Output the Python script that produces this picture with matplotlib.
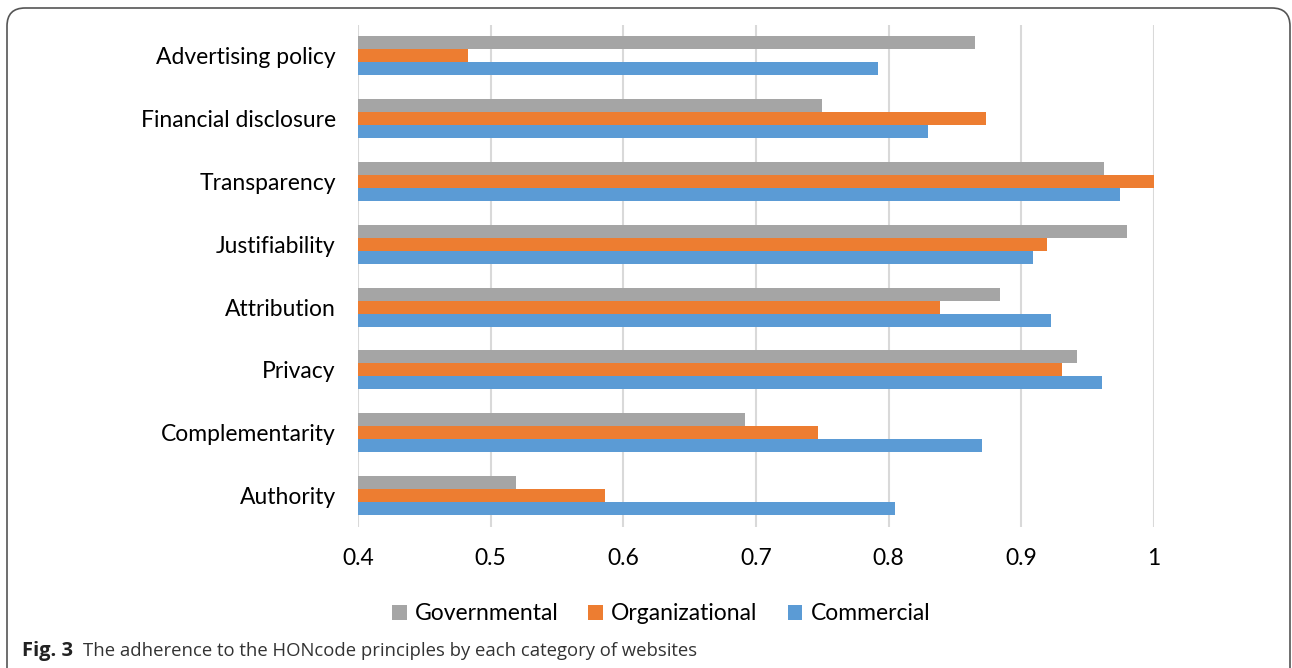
import matplotlib
matplotlib.use("Agg")
import matplotlib.pyplot as plt
from matplotlib.patches import FancyBboxPatch
import numpy as np

categories = ["Advertising policy", "Financial disclosure", "Transparency", "Justifiability",
              "Attribution", "Privacy", "Complementarity", "Authority"]
governmental = [0.865, 0.750, 0.962, 0.980, 0.884, 0.942, 0.692, 0.519]
organizational = [0.483, 0.873, 1.000, 0.919, 0.839, 0.931, 0.747, 0.586]
commercial = [0.792, 0.830, 0.974, 0.909, 0.922, 0.961, 0.870, 0.805]
xticks = [0.4, 0.5, 0.6, 0.7, 0.8, 0.9, 1.0]
xticklabels = ["0.4", "0.5", "0.6", "0.7", "0.8", "0.9", "1"]

plt.rcParams['font.family'] = ['Lato', 'DejaVu Sans']

W, H = 1292, 668
fig = plt.figure(figsize=(W / 100, H / 100), dpi=100)
ax = fig.add_axes([358 / W, 1 - 527 / H, (1154 - 358) / W, (527 - 24.5) / H])

n = len(categories)
y = np.arange(n)
h = 0.207
base = 0.4
ax.barh(y - h, np.array(governmental) - base, left=base, height=h, color="#A5A5A5", label="Governmental", zorder=3)
ax.barh(y, np.array(organizational) - base, left=base, height=h, color="#ED7D31", label="Organizational", zorder=3)
ax.barh(y + h, np.array(commercial) - base, left=base, height=h, color="#5B9BD5", label="Commercial", zorder=3)

ax.set_ylim(n - 0.5, -0.5)
ax.set_xlim(0.4, 1.0)
ax.set_yticks(y)
ax.set_yticklabels(categories, fontsize=16.5, color="#000000")
ax.set_xticks(xticks)
ax.set_xticklabels(xticklabels, fontsize=16.5)
ax.tick_params(axis='both', length=0)
ax.tick_params(axis='y', pad=16)
ax.tick_params(axis='x', pad=15)
for s in ax.spines.values():
    s.set_visible(False)
ax.grid(axis='x', color="#D9D9D9", linewidth=1.5, zorder=0)
ax.set_axisbelow(True)

leg = fig.legend(loc='center', bbox_to_anchor=(661 / W, 1 - 614 / H), ncol=3, frameon=False,
                 fontsize=16.5, handlelength=0.65, handleheight=0.65, handletextpad=0.35,
                 columnspacing=1.3)

# frame
frame = FancyBboxPatch((7 / W, -0.05), (1290 - 7) / W, (668 - 8) / H + 0.05,
                       boxstyle="round,pad=0,rounding_size=0.014", transform=fig.transFigure,
                       facecolor="none", edgecolor="#555555", linewidth=1.2, mutation_aspect=W / H)
fig.patches.append(frame)

cap_family = ['Open Sans', 'DejaVu Sans']
fig.text(22 / W, 1 - 651 / H, "Fig. 3", fontsize=14.5, fontweight='bold', va='center', ha='left',
         family=cap_family, color="#222222")
fig.text(83 / W, 1 - 651 / H, "The adherence to the HONcode principles by each category of websites",
         fontsize=13.3, va='center', ha='left', family=cap_family, color="#333333")

fig.savefig("out.png", dpi=100)
